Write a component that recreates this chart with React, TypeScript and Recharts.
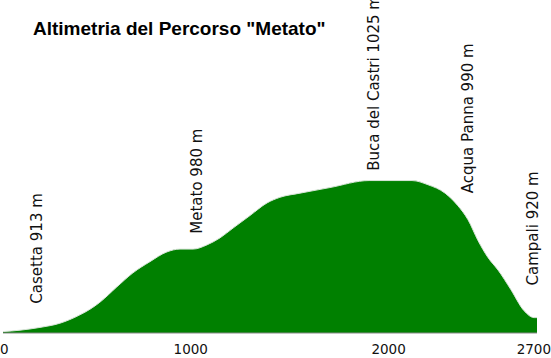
import React from 'react';
import { AreaChart, Area, XAxis, YAxis, ReferenceDot } from 'recharts';

// profilo altimetrico (distanza in m, quota in m)
const distanze = [0, 86, 187, 288, 389, 440, 490, 576, 657, 743, 829, 895, 961, 1031, 1097, 1163, 1249, 1335, 1400, 1502, 1653, 1851, 2068, 2149, 2235, 2300, 2351, 2402, 2452, 2503, 2568, 2634, 2685, 2700];
const quote = [913, 914, 916, 919, 925, 929, 934, 945, 955, 963, 970, 972, 972, 975, 980, 987, 996, 1005, 1009, 1012, 1016, 1021, 1021, 1018, 1012, 1003, 993, 978, 966, 957, 943, 928, 923, 923];

// punti notevoli
const nomiTappe = ['Casetta 913 m', 'Metato 980 m', 'Buca del Castri 1025 m', 'Acqua Panna 990 m', 'Campali 920 m'];
const distTappe = [172, 981, 1876, 2351, 2680];
const quotaEtichette = [933, 983, 1028, 1012, 946];

const xTicks = [0, 1000, 2000, 2700];

const data = distanze.map((d, i) => ({ dist: d, quota: quote[i] }));

const font = 'Liberation Sans, Arial, sans-serif';
const fontEtichette = 'DejaVu Sans, sans-serif';

const Tick = (props: any) => {
  const { x, y, payload } = props;
  let anchor: 'start' | 'middle' | 'end' = 'middle';
  let xx = x - 10;
  if (payload.value === 0) { anchor = 'start'; xx = x - 3; }
  if (payload.value === 2700) { anchor = 'end'; xx = 551; }
  return (
    <text x={xx} y={y + 13} textAnchor={anchor} fontSize={13.5} fontFamily={fontEtichette} fill="#111">
      {payload.value}
    </text>
  );
};

const labelTappa = (testo: string) => (props: any) => {
  const vb = props.viewBox || {};
  const cx = vb.x + (vb.width || 0) / 2;
  const cy = vb.y + (vb.height || 0) / 2;
  return (
    <text
      x={cx}
      y={cy}
      dy={5}
      transform={`rotate(-90 ${cx} ${cy})`}
      textAnchor="start"
      fontSize={15}
      fontFamily={fontEtichette}
      fill="#111"
    >
      {testo}
    </text>
  );
};

export default function App() {
  return (
    <div style={{ position: 'absolute', left: 0, top: 0, width: 551, height: 358, background: '#fff' }}>
      <div style={{ position: 'absolute', left: 33, top: 18, fontFamily: font, fontWeight: 'bold', fontSize: 19, color: '#000' }}>
        Altimetria del Percorso "Metato"
      </div>
      <AreaChart width={551} height={358} data={data} margin={{ top: 140, right: 14, bottom: 0, left: 3 }}>
        <XAxis
          dataKey="dist"
          type="number"
          domain={[0, 2700]}
          ticks={xTicks}
          height={25}
          tickLine={false}
          axisLine={{ stroke: '#888' }}
          tick={<Tick />}
          interval={0}
        />
        <YAxis hide domain={[912, 1050]} allowDataOverflow />
        <Area
          type="monotone"
          dataKey="quota"
          fill="#008000"
          fillOpacity={1}
          stroke="#d8e4d8"
          strokeWidth={1}
          baseValue={912}
          isAnimationActive={false}
        />
        {nomiTappe.map((n, i) => (
          <ReferenceDot
            key={n}
            x={distTappe[i]}
            y={quotaEtichette[i]}
            r={0}
            fill="none"
            stroke="none"
            ifOverflow="visible"
            label={labelTappa(n)}
          />
        ))}
      </AreaChart>
    </div>
  );
}
